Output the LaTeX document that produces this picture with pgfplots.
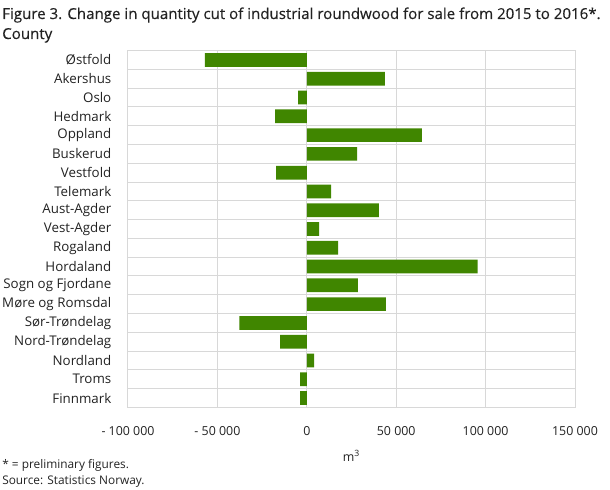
\documentclass[border=0pt]{standalone}
\usepackage{fontspec}
\setmainfont{Open Sans}
\newfontfamily\titlefont[FakeBold=0.35]{Open Sans}
\usepackage{pgfplots}
\pgfplotsset{compat=1.18}
\usepackage{pgfplotstable}
\definecolor{barcol}{RGB}{64,134,0}
\definecolor{gridcol}{RGB}{216,216,216}
\definecolor{txtcol}{RGB}{34,34,34}

% change in m3, counties in figure order (0 = Østfold at top)
\pgfplotstableread{
idx value
0  -57000
1   43600
2   -4800
3  -17700
4   64300
5   28100
6  -17100
7   13600
8   40300
9    6900
10  17500
11  95500
12  28600
13  44200
14 -37700
15 -14900
16   4100
17  -3700
18  -3700
}\counties

\begin{document}
\begin{tikzpicture}[x=0.75pt,y=0.75pt]
\path[use as bounding box] (0,0) rectangle (610,489);
\node[anchor=base west,inner sep=0,font=\titlefont\fontsize{11.3pt}{13pt}\selectfont,text=txtcol] at (2,470)
  {Figure 3. Change in quantity cut of industrial roundwood for sale from 2015 to 2016*.};
\node[anchor=base west,inner sep=0,font=\titlefont\fontsize{11.3pt}{13pt}\selectfont,text=txtcol] at (2,450) {County};
\begin{axis}[
    at={(96pt,61.2pt)}, anchor=south west,
    scale only axis,
    width=335.25pt, height=267.6pt,
    xbar, bar width=0.73, bar shift=0pt,
    xmin=-100000, xmax=150000,
    ymin=-0.5, ymax=18.5, y dir=reverse,
    xtick={-100000,-50000,0,50000,100000,150000},
    xticklabels={- 100 000,- 50 000,0,50 000,100 000,150 000},
    ytick={0,...,18},
    yticklabels={Østfold,Akershus,Oslo,Hedmark,Oppland,Buskerud,Vestfold,Telemark,Aust-Agder,Vest-Agder,Rogaland,Hordaland,Sogn og Fjordane,Møre og Romsdal,Sør-Trøndelag,Nord-Trøndelag,Nordland,Troms,Finnmark},
    minor ytick={-0.5,0.5,...,18.5},
    major tick length=0pt, minor tick length=0pt,
    xmajorgrids, yminorgrids,
    grid style={gridcol, line width=0.75pt},
    minor grid style={gridcol, line width=0.75pt},
    axis line style={gridcol, line width=0.75pt},
    xticklabel style={font=\fontsize{9.3pt}{10pt}\selectfont, text=txtcol, yshift=-11pt},
    yticklabel style={font=\fontsize{10pt}{11pt}\selectfont, text=txtcol, xshift=-9pt},
    xlabel={m\textsuperscript{3}},
    xlabel style={font=\fontsize{9.3pt}{10pt}\selectfont, text=txtcol, yshift=-4pt},
    scaled x ticks=false,
]
\addplot[fill=barcol, draw=none] table[x=value, y=idx] {\counties};
\end{axis}
\node[anchor=base west,inner sep=0,font=\fontsize{8.9pt}{10pt}\selectfont,text=txtcol] at (2,21) {* = preliminary figures.};
\node[anchor=base west,inner sep=0,font=\fontsize{8.9pt}{10pt}\selectfont,text=txtcol] at (2,5) {Source: Statistics Norway.};
\end{tikzpicture}
\end{document}
